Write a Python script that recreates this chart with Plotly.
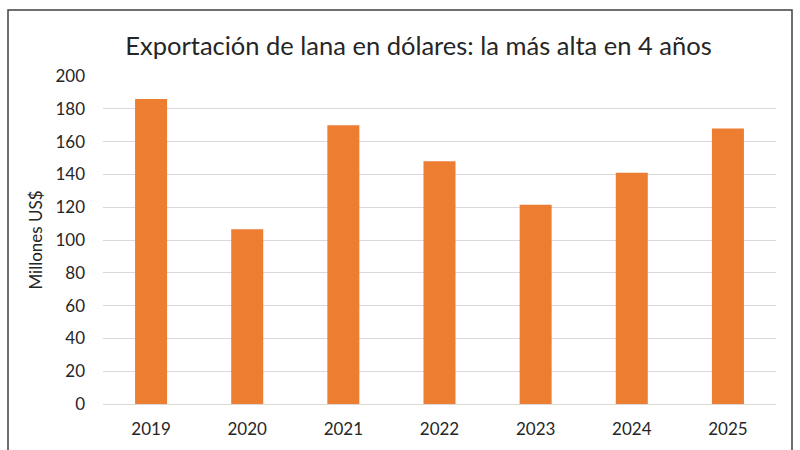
import plotly.graph_objects as go

years = ["2019", "2020", "2021", "2022", "2023", "2024", "2025"]
values = [186, 106.5, 170, 148, 121.5, 141, 168]
y_ticks = [0, 20, 40, 60, 80, 100, 120, 140, 160, 180, 200]

W, H = 800, 450
L, R, T, B = 103, 24, 76, 46
pw, ph = W - L - R, H - T - B

def px_x(x):
    return (x - L) / pw

def px_y(y):
    return (H - B - y) / ph

fig = go.Figure(go.Bar(x=years, y=values, marker=dict(color="#ED7D31", line=dict(width=0)),
                       hoverinfo="x+y"))

fig.update_layout(
    width=W, height=H,
    margin=dict(l=L, r=R, t=T, b=B),
    paper_bgcolor="white", plot_bgcolor="white",
    bargap=0.667,
    font=dict(family="Lato", color="#404040", size=17),
    title=dict(text="Exportación de lana en dólares: la más alta en 4 años",
               x=418.5 / W, xanchor="center", y=1 - 46 / H, yanchor="middle",
               font=dict(family="Lato", size=25.5, color="#262626")),
    showlegend=False,
    shapes=[dict(type="rect", xref="paper", yref="paper",
                 x0=px_x(8), x1=px_x(792), y0=px_y(10), y1=px_y(460),
                 line=dict(color="#404040", width=1.5), layer="below")],
)
fig.update_xaxes(showgrid=False, showline=False, ticks="", ticklabelstandoff=13,
                 tickfont=dict(size=17, color="#262626"))
fig.update_yaxes(range=[0, 200], tickvals=y_ticks, showgrid=True, gridcolor="#D9D9D9",
                 gridwidth=1, zeroline=True, zerolinecolor="#D9D9D9", zerolinewidth=1,
                 showline=False, ticks="", ticklabelstandoff=17,
                 tickfont=dict(size=17, color="#262626"),
                 title=dict(text="Millones US$", font=dict(size=17, color="#262626"), standoff=8))

fig.write_html("out.html", config={"displayModeBar": False},
               post_script="document.body.style.margin='0';")
